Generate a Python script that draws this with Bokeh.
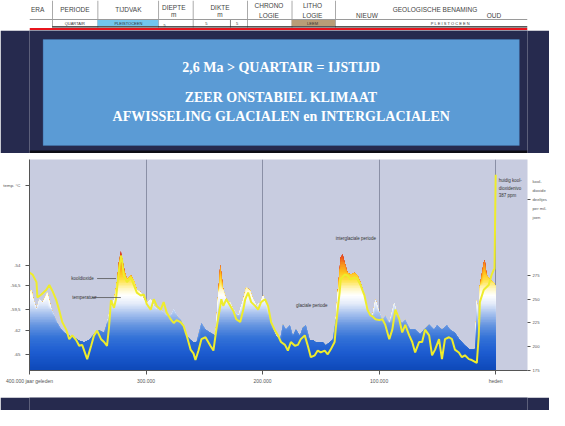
import numpy as np
from bokeh.plotting import figure
from bokeh.models import Range1d, LinearAxis, FixedTicker, Label, BoxAnnotation
from bokeh.layouts import column
from bokeh.embed import file_html
from bokeh.resources import INLINE

# ---------------- data ----------------
co2_years = [400000, 397400, 394000, 393200, 389800, 385500, 383000, 380400, 377000, 374400,
             371900, 368500, 365900, 363300, 359900, 357400, 354800, 350500, 347100, 344600,
             342000, 338600, 336000, 333500, 331800, 330100, 327500, 325800, 323300, 321500,
             320700, 319000, 316400, 313000, 310500, 307900, 304500, 301900, 299400, 296000,
             293400, 290800, 287400, 284900, 282300, 278900, 276300, 273800, 270400, 267800,
             265200, 261800, 259300, 257600, 255000, 252500, 249000, 244800, 242200, 239700,
             236300, 235400, 233700, 231100, 227700, 225200, 222600, 219200, 216600, 214900,
             212400, 209800, 206400, 203800, 201300, 197900, 195300, 192700, 189300, 186800,
             184200, 180800, 178300, 175700, 172300, 169700, 167200, 163800, 161200, 158600,
             155200, 152700, 150100, 146700, 144100, 141600, 138200, 137300, 135600, 133900,
             133000, 129600, 127100, 124500, 121100, 118500, 116000, 112600, 110000, 107500,
             105800, 103200, 99800, 97200, 94700, 91300, 88700, 86100, 82700, 80200,
             77600, 74200, 71600, 69100, 65700, 63100, 60600, 57100, 54600, 52000,
             48600, 46100, 43500, 40100, 37500, 35000, 31600, 29000, 26400, 23000,
             20500, 16200, 14500, 13600, 10200, 6000, 3400, 1700, 1000, 0]
co2_ppm = [278, 276, 268, 252, 255, 260, 265, 259, 249, 238,
           226, 218, 208, 212, 207, 201, 202, 187, 201, 212,
           217, 208, 205, 201, 220, 249, 241, 250, 280, 296,
           292, 275, 268, 273, 265, 257, 254, 255, 245, 239,
           250, 243, 239, 247, 236, 229, 225, 228, 226, 222,
           212, 197, 193, 186, 196, 208, 210, 201, 196, 218,
           243, 250, 243, 250, 243, 238, 229, 226, 239, 250,
           257, 247, 243, 239, 247, 250, 243, 226, 217, 212,
           205, 202, 196, 205, 201, 202, 208, 212, 201, 189,
           191, 196, 194, 196, 192, 197, 205, 218, 239, 257,
           271, 276, 275, 271, 273, 271, 265, 254, 239, 233,
           232, 229, 228, 229, 223, 208, 218, 239, 229, 215,
           223, 212, 205, 194, 205, 205, 218, 212, 191, 197,
           208, 187, 208, 210, 208, 197, 194, 189, 191, 187,
           186, 183, 212, 247, 260, 265, 276, 281, 282, 381]

temp_years = [400000, 398300, 396600, 394000, 391500, 388900, 384700, 381200, 378700, 376100,
              372700, 370100, 365900, 361600, 357400, 353100, 348800, 344600, 340300, 336100,
              333500, 330100, 327500, 325000, 323300, 321600, 320700, 318100, 316400, 313000,
              310500, 307900, 304500, 301900, 299400, 296000, 293400, 290800, 287400, 284900,
              282300, 278900, 276300, 273800, 270400, 267800, 265300, 261800, 259300, 256700,
              252500, 249000, 244800, 240500, 238000, 236300, 233700, 231100, 227700, 225200,
              220900, 216600, 214100, 210700, 208100, 205500, 202100, 199600, 197000, 193600,
              191000, 188500, 185100, 182500, 180000, 176600, 174000, 171400, 168000, 165500,
              162900, 159500, 156900, 154400, 151000, 148400, 145800, 142400, 139900, 137300,
              135600, 133900, 133100, 131300, 129600, 127100, 124500, 121100, 118600, 116000,
              112600, 110000, 107500, 105800, 103200, 99800, 97200, 94700, 91300, 87000,
              84400, 80200, 77600, 73300, 69100, 64800, 61400, 57100, 52900, 50300,
              46100, 41800, 39200, 35000, 30700, 26400, 22200, 17900, 16200, 14500,
              13600, 10200, 9400, 7700, 5100, 1700, 0]
temp_c = [-57.3, -57.0, -58.2, -59.4, -58.2, -58.6, -57.3, -59.4, -60.2, -61.1,
          -61.9, -62.3, -62.7, -62.9, -63.3, -63.5, -63.2, -62.5, -62.0, -62.3,
          -61.1, -58.9, -58.2, -56.1, -53.6, -52.2, -53.0, -54.9, -55.7, -55.2,
          -55.8, -57.0, -57.3, -58.2, -58.6, -58.2, -58.9, -59.4, -59.4, -59.8,
          -60.2, -60.2, -59.4, -60.1, -60.7, -61.4, -62.7, -63.2, -63.5, -63.5,
          -61.1, -61.9, -62.3, -62.7, -57.3, -53.9, -57.0, -58.2, -58.6, -59.4,
          -60.2, -58.2, -56.7, -57.1, -58.2, -58.9, -58.6, -57.7, -58.6, -60.2,
          -61.9, -62.7, -63.2, -61.3, -61.9, -61.4, -62.7, -61.9, -62.7, -61.7,
          -61.4, -63.2, -63.2, -63.5, -63.5, -63.5, -63.9, -63.5, -63.2, -60.7,
          -57.3, -54.5, -53.0, -52.6, -53.6, -54.9, -55.1, -54.9, -55.2, -56.1,
          -57.7, -59.4, -59.8, -60.2, -58.2, -59.8, -60.7, -60.2, -61.1, -58.6,
          -60.2, -61.1, -60.7, -61.9, -61.9, -62.5, -61.9, -61.3, -61.9, -61.4,
          -61.9, -61.4, -61.9, -62.3, -63.2, -63.9, -64.4, -64.4, -58.2, -61.9,
          -56.5, -53.6, -53.3, -55.2, -55.7, -56.1, -56.5]

x_ticks = [400000, 300000, 200000, 100000, 0]
x_tick_labels = ["400.000 jaar geleden", "300.000", "200.000", "100.000", "heden"]
temp_ticks = [-54, -56.5, -59.5, -62, -65]
temp_tick_labels = ["-54", "-56,5", "-59,5", "-62", "-65"]
temp_title = "temp. °C"
temp_title_at = -44.1
co2_ticks = [175, 200, 225, 250, 275]
co2_title = "kool-\ndioxide\ndeeltjes\nper mil-\njoen"
co2_title_at = 355

slide_lines = ["2,6 Ma > QUARTAIR = IJSTIJD", "ZEER ONSTABIEL KLIMAAT",
               "AFWISSELING GLACIALEN en INTERGLACIALEN"]
header_labels = ["ERA", "PERIODE", "TIJDVAK", "DIEPTE", "m", "DIKTE", "m", "CHRONO", "LOGIE",
                 "LITHO", "LOGIE", "NIEUW", "GEOLOGISCHE BENAMING", "OUD"]
row_labels = ["QUARTAIR", "PLEISTOCEEN", "5", "5", "5", "LEEM", "P L E I S T O C E E N"]

# ---------------- styles / layout ----------------
W = 549
NAVY = "#262a4e"
FONT = "Liberation Sans"


def blank(height, ymax, bg):
    f = figure(width=W, height=height, x_range=Range1d(0, W), y_range=Range1d(ymax, 0),
               output_backend="svg", toolbar_location=None, x_axis_location=None,
               y_axis_location=None, min_border=0, outline_line_color=None,
               background_fill_color=bg, border_fill_color=bg)
    f.grid.visible = False
    return f


# ---- header (table) ----
hdr = blank(30, 30, "white")
for x in [25, 75, 142, 180, 240, 289, 337]:
    hdr.add_layout(BoxAnnotation(left=x, right=x + 0.8, top=0, bottom=27, fill_color="#8a8a8a",
                                 fill_alpha=1, line_color=None))
hdr.add_layout(BoxAnnotation(left=221, right=221.8, top=19, bottom=27, fill_color="#555",
                             fill_alpha=1, line_color=None))
hdr.add_layout(BoxAnnotation(left=0, right=W, top=18.6, bottom=19.4, fill_color="#9a9a9a",
                             fill_alpha=1, line_color=None))
hdr.add_layout(BoxAnnotation(left=75, right=142, top=19.4, bottom=25.5, fill_color="#72c6ee",
                             fill_alpha=1, line_color=None))
hdr.add_layout(BoxAnnotation(left=289, right=337, top=19.4, bottom=25.5, fill_color="#b99d77",
                             fill_alpha=1, line_color=None))
hdr.add_layout(BoxAnnotation(left=25, right=W, top=25.8, bottom=27, fill_color="#222",
                             fill_alpha=1, line_color=None))
hdr.add_layout(BoxAnnotation(left=0, right=W, top=27.5, bottom=30, fill_color="#e8141c",
                             fill_alpha=1, line_color=None))
hpos = [(9, 9), (50, 9), (109, 9), (159, 7), (159, 13.5), (210, 7), (210, 13.5), (264, 4.5),
        (264, 14.5), (312, 4.5), (312, 14.5), (372, 15), (447, 8.5), (512, 15)]
for t, (x, y) in zip(header_labels, hpos):
    hdr.add_layout(Label(x=x, y=y, text=t, text_align="center", text_baseline="middle",
                         text_font=FONT, text_font_size="6.5px", text_color="#444"))
rpos = [(50, 22.5), (109, 22.5), (149, 25), (195, 22.5), (229, 22.5), (312, 22.5), (464, 23)]
for t, (x, y) in zip(row_labels, rpos):
    hdr.add_layout(Label(x=x, y=y, text=t, text_align="center", text_baseline="middle",
                         text_font=FONT, text_font_size="4px", text_color="#333"))

# ---- slide with blue box ----
sld = blank(123, 123, NAVY)
sld.add_layout(BoxAnnotation(left=15, right=540, top=9, bottom=115, fill_color="#5b9bd5",
                             fill_alpha=1, line_color="#4a84c2", line_width=1))
sld.add_layout(BoxAnnotation(left=0, right=W, top=120, bottom=123, fill_color="#0d0d14",
                             fill_alpha=1, line_color=None))
for t, y in zip(slide_lines, [37, 67, 86]):
    sld.add_layout(Label(x=277.5, y=y, text=t, text_align="center", text_baseline="middle",
                         text_font="Liberation Serif", text_font_style="bold",
                         text_font_size="14px", text_color="white"))

# ---- chart ----
p = figure(width=W, height=244, x_range=Range1d(400000, -27300), y_range=Range1d(175, 397.1),
           output_backend="svg", toolbar_location=None, y_axis_location=None,
           min_border_left=27, min_border_right=21, min_border_top=6, min_border_bottom=27,
           background_fill_color="#c8cce0", border_fill_color="white", outline_line_color=None)
p.extra_y_ranges = {"temp": Range1d(-66.98, -40.9)}
p.ygrid.visible = False
p.xgrid.ticker = FixedTicker(ticks=x_ticks[1:])
p.xgrid.grid_line_color = "#8a8fa6"
p.xgrid.grid_line_width = 1

# gradient-filled temperature area
grad_T = [-66.98, -64.75, -62.9, -61.42, -59.93, -58.7, -57.71, -56.84, -55.85, -54.87, -53.88, -53.01, -52.02]
grad_c = ["#0d48b8", "#1d5cd0", "#3473d8", "#6494e0", "#a8c2ee", "#e4ecfa", "#ffffff", "#fff6c0",
          "#ffe24a", "#ffc21c", "#f8921e", "#ec5a1e", "#d8301a"]
rgb = np.array([[int(c[i:i + 2], 16) for i in (1, 3, 5)] for c in grad_c], dtype=float)
tv = np.array(temp_c)
base = p.extra_y_ranges["temp"].start
edges = np.arange(base, -51.6, 0.2)
for hi in edges[::-1]:
    mid = hi - 0.1
    col = [np.interp(mid, grad_T, rgb[:, k]) for k in range(3)]
    hexc = "#%02x%02x%02x" % tuple(int(round(v)) for v in col)
    p.varea(x=temp_years, y1=base, y2=np.minimum(tv, hi), fill_color=hexc, y_range_name="temp")

p.line(co2_years, co2_ppm, line_color="#eeec2c", line_width=2)

# axes
ax = p.xaxis[0]
ax.ticker = FixedTicker(ticks=x_ticks)
ax.major_label_overrides = dict(zip(x_ticks, x_tick_labels))
la = LinearAxis(y_range_name="temp", ticker=FixedTicker(ticks=temp_ticks + [temp_title_at]),
                major_label_overrides=dict(zip(temp_ticks + [temp_title_at],
                                               temp_tick_labels + [temp_title])))
p.add_layout(la, "left")
ra = LinearAxis(ticker=FixedTicker(ticks=co2_ticks + [co2_title_at]),
                major_label_overrides={co2_title_at: co2_title})
p.add_layout(ra, "right")
for a in (ax, la, ra):
    a.major_label_text_font = FONT
    a.major_label_text_color = "#555"
    a.major_tick_out = 4
    a.major_tick_in = 0
    a.minor_tick_out = 0
    a.minor_tick_in = 0
    a.axis_line_color = "#555"
    a.major_tick_line_color = "#555"
ax.major_label_text_font_size = "5px"
la.major_label_text_font_size = "4.4px"
ra.major_label_text_font_size = "4.2px"
ra.major_label_text_line_height = 1.8
ax.major_label_standoff = 3
la.major_label_standoff = 5
ra.major_label_standoff = 2
ra.major_tick_out = 3
ra.axis_line_color = None

notes = [("kooldioxide", 364200, 271.8), ("temperatuur", 363300, 251.8),
         ("interglaciale periode", 137300, 314), ("glaciale periode", 171400, 243.4),
         ("huidig kool-", -2600, 375), ("dioxidenivo", -2600, 366.6), ("387 ppm", -2600, 359.2)]
for t, x, y in notes:
    p.add_layout(Label(x=x, y=y, text=t, text_align="left", text_baseline="middle",
                       text_font=FONT, text_font_size="4.5px", text_color="#333"))
leaders = [(342000, 325800, 271.8), (346300, 321600, 251.8)]
for x0, x1, y in leaders:
    p.segment(x0=[x0], y0=[y], x1=[x1], y1=[y], line_color="#555", line_width=0.8)

# ---- footer ----
ftr = blank(13, 13, NAVY)

layout = column(hdr, sld, p, ftr, spacing=0)
open("out.html", "w").write(file_html(layout, INLINE))
